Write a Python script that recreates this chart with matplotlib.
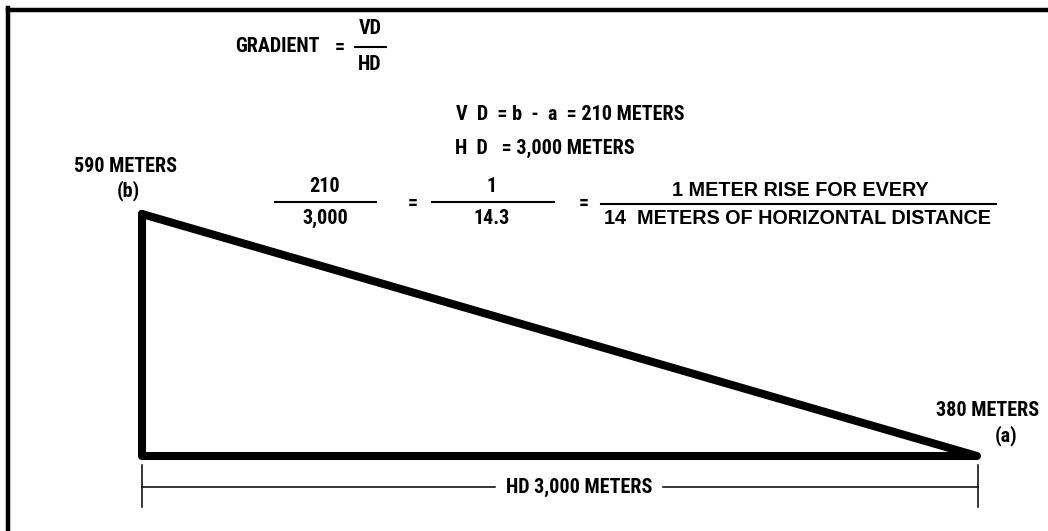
import matplotlib.pyplot as plt
from matplotlib.lines import Line2D

# gradient example values
elev_b = 590     # meters, high point (b)
elev_a = 380     # meters, low point (a)
hd = 3000        # horizontal distance, meters
vd = elev_b - elev_a
ratio = hd / vd

W, H = 1048, 531
plt.rcParams['font.family'] = ['Roboto Condensed', 'Liberation Sans Narrow', 'Liberation Sans', 'DejaVu Sans']
plt.rcParams['font.weight'] = 'bold'
plt.rcParams['font.size'] = 14.5
wide = ['Liberation Sans', 'DejaVu Sans']

fig = plt.figure(figsize=(W / 100, H / 100), dpi=100)
ax = fig.add_axes([0, 0, 1, 1])
# map meters onto the page: x=0 at px 142, x=hd at px 977; y=590 at px 214, y=380 at px 456
sx = (977 - 142) / hd
sy = (456 - 214) / vd
ax.set_xlim(-142 / sx, hd + (W - 977) / sx)
ax.set_ylim(elev_a - (H - 456) / sy, elev_b + 214 / sy)
ax.axis('off')


def px(x, y):
    return x / W, 1 - y / H


def txt(x, y, s, **kw):
    fig.text(*px(x, y), s, ha=kw.pop('ha', 'center'), va='center', **kw)


def hline(x0, x1, y, lw=1.5):
    fig.add_artist(Line2D([x0 / W, x1 / W], [1 - y / H, 1 - y / H], color='black', lw=lw))


# frame (top and left only)
fig.add_artist(Line2D([8 / W, 1], [1 - 10 / H, 1 - 10 / H], color='black', lw=3.2))
fig.add_artist(Line2D([8 / W, 8 / W], [1 - 8 / H, 0], color='black', lw=3.2))

# triangle
ax.plot([0, 0, hd, 0], [elev_b, elev_a, elev_a, elev_b], color='black', lw=5.8,
        solid_joinstyle='round', solid_capstyle='round')

# formula
txt(235, 47, 'GRADIENT', ha='left')
txt(340, 47, '=')
txt(370, 29, 'VD')
hline(355, 386, 47)
txt(370, 64, 'HD')
txt(570, 115, 'V  D  = b  -  a  = %d METERS' % vd)
txt(545, 148, 'H  D   = {:,} METERS'.format(hd))

txt(126, 167, '%d METERS' % elev_b)
txt(128, 191, '(b)')

txt(325, 186, str(vd))
hline(275, 376, 202)
txt(325, 218, '{:,}'.format(hd))
txt(413, 203, '=')
txt(492, 186, '1')
hline(432, 554, 202)
txt(492, 218, '%.1f' % ratio)
txt(584, 203, '=')
txt(800, 190, '1 METER RISE FOR EVERY', family=wide, fontsize=14.2)
hline(601, 996, 204)
txt(797, 219, '%d  METERS OF HORIZONTAL DISTANCE' % int(ratio), family=wide, fontsize=14.2)

txt(988, 411, '%d METERS' % elev_a)
txt(1006, 436, '(a)')

# dimension line
for xd in (142, 978):
    fig.add_artist(Line2D([xd / W, xd / W], [1 - 465 / H, 1 - 507 / H], color='black', lw=1.1))
hline(142, 495, 487, lw=1.1)
hline(663, 978, 487, lw=1.1)
txt(579, 487, 'HD {:,} METERS'.format(hd))

fig.savefig('out.png', dpi=100)
